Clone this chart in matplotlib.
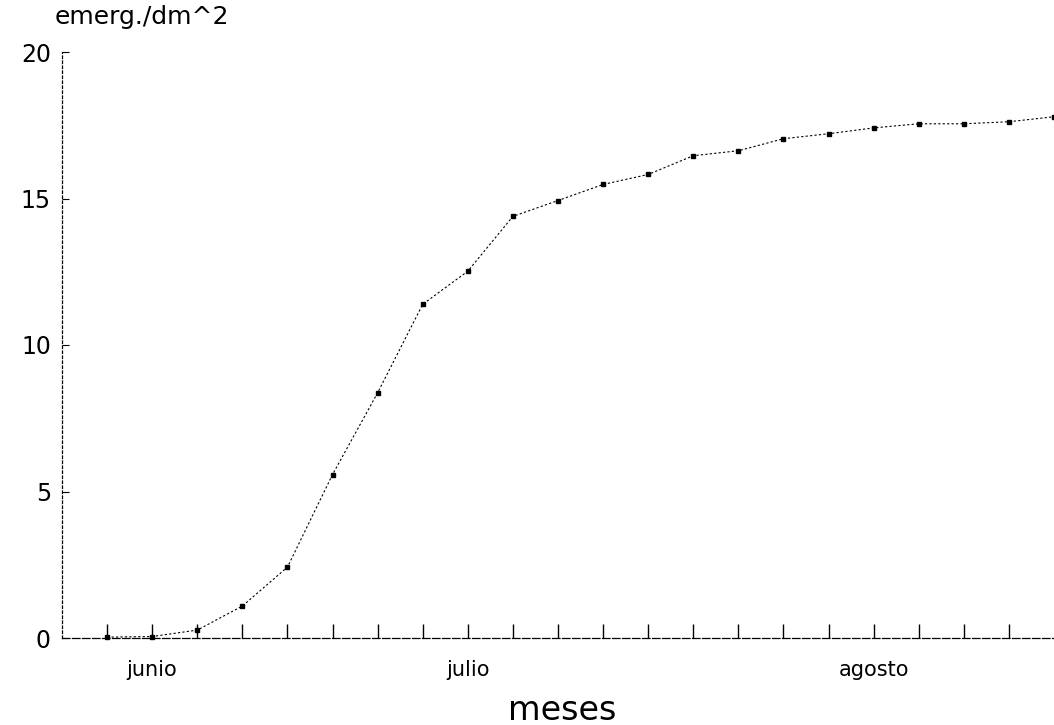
import matplotlib
matplotlib.use('Agg')
import matplotlib.pyplot as plt
import numpy as np

plt.rcParams['font.family'] = ['DejaVu Sans']

# weekly emergence counts (emerg./dm^2)
semana = np.arange(22)
emerg = [0.03, 0.05, 0.27, 1.09, 2.42, 5.58, 8.37, 11.39, 12.52, 14.39, 14.93,
         15.48, 15.82, 16.46, 16.63, 17.04, 17.21, 17.41, 17.55, 17.55, 17.62, 17.79]
meses = ['junio', 'julio', 'agosto']
pos_meses = [1, 8, 17]
yticks = [0, 5, 10, 15, 20]

fig = plt.figure(figsize=(10.54, 7.25), dpi=100)
ax = fig.add_axes([62 / 1054, 1 - 638 / 725, 1 - 62 / 1054, (638 - 52) / 725])

ax.plot(semana, emerg, color='black', lw=0.8, linestyle=(0, (2, 2)),
        marker='s', ms=2.5, clip_on=False)

ax.set_xlim(-1, 21)
ax.set_ylim(0, 20)

for s in ['top', 'right']:
    ax.spines[s].set_visible(False)
ax.spines['left'].set_linestyle((0, (2, 2)))
ax.spines['left'].set_linewidth(0.9)
ax.spines['bottom'].set_linestyle((0, (6, 2)))
ax.spines['bottom'].set_linewidth(0.9)

ax.set_xticks(semana[:-1])
ax.set_xticklabels([])
ax.tick_params(axis='x', direction='in', length=10, width=1)
ax.set_yticks(yticks)
ax.tick_params(axis='y', direction='in', length=5, width=0.8, labelsize=17, pad=8)

for m, p in zip(meses, pos_meses):
    ax.text(p, -0.75, m, ha='center', va='top', fontsize=15)

fig.text(55 / 1054, 1 - 17 / 725, 'emerg./dm^2', fontsize=18, va='center', ha='left')
fig.text(562 / 1054, 1 - 710 / 725, 'meses', fontsize=24, va='center', ha='center')

fig.savefig('out.png', dpi=100)
